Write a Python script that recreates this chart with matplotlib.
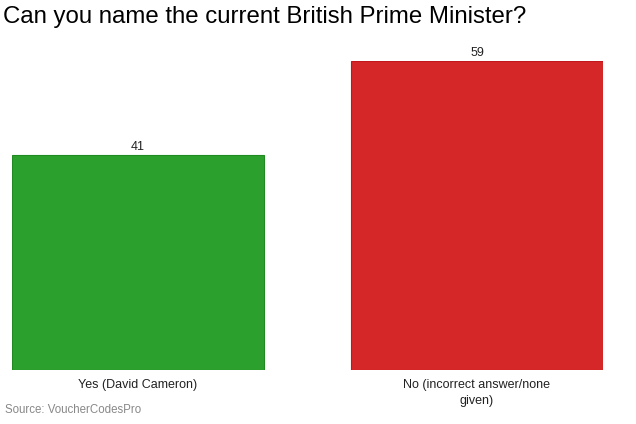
import matplotlib
matplotlib.use("Agg")
import matplotlib.pyplot as plt

categories = ["Yes (David Cameron)", "No (incorrect answer/none\ngiven)"]
values = [41, 59]
colors = ["#2ca02c", "#d62728"]
edges = ["#1f8a1f", "#c0181c"]

plt.rcParams['font.family'] = ['Liberation Sans', 'DejaVu Sans']

fig = plt.figure(figsize=(6.36, 4.24), dpi=100)
W, H = 636, 424
left, right, bottom, top = 12, 603, 370, 61
ax = fig.add_axes([left / W, 1 - bottom / H, (right - left) / W, (bottom - top) / H])

w = 252 / 339
xs = list(range(len(categories)))
bars = ax.bar(xs, values, width=w, color=colors, edgecolor=edges, linewidth=0.8)
ax.set_xlim(-w / 2, xs[-1] + w / 2)
ax.set_ylim(0, max(values))
for x, v in zip(xs, values):
    ax.annotate(str(v), (x, v), xytext=(0, 1.5), textcoords="offset points",
                ha="center", va="bottom", fontsize=9, color="#222222")

ax.set_xticks(xs)
ax.set_xticklabels(categories, fontsize=9, color="#222222", linespacing=1.45)
ax.tick_params(axis="x", length=0, pad=6.5)
ax.set_yticks([])
for s in ax.spines.values():
    s.set_visible(False)

fig.text(3 / W, 1 - 17 / H, "Can you name the current British Prime Minister?",
         fontsize=17.3, va="center", ha="left", color="black")
fig.text(5 / W, 1 - 410 / H, "Source: VoucherCodesPro", fontsize=8.3,
         va="center", ha="left", color="#888888")

fig.savefig("out.png", dpi=100)
